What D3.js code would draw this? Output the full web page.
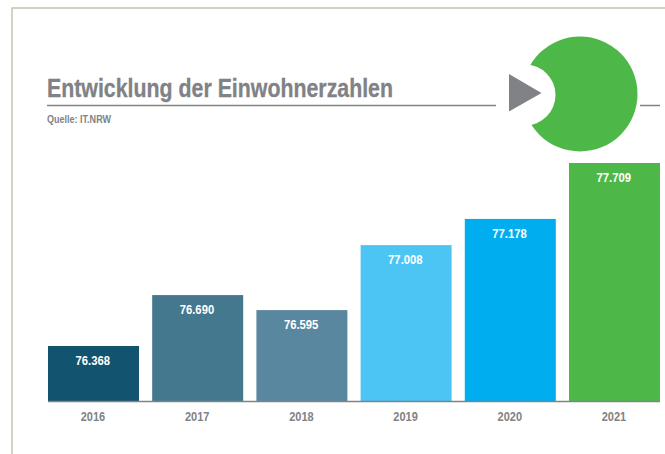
<!DOCTYPE html>
<html lang="de"><head><meta charset="utf-8">
<script src="https://cdn.jsdelivr.net/npm/d3@7"></script>
<style>html,body{margin:0;padding:0;background:#fff;overflow:hidden}svg{display:block}
text{font-family:"Liberation Sans",Arial,sans-serif;font-weight:700}</style>
</head><body><svg id="c" width="665" height="454"></svg>
<script>
const years = ["2016","2017","2018","2019","2020","2021"];
const valueLabels = ["76.368","76.690","76.595","77.008","77.178","77.709"];
// The source's bars are not proportional to their printed numbers, so the drawn
// bar lengths are read from the picture separately (relative units, 2021 = 100).
const barLengths = [23.1, 44.5, 38.2, 65.5, 76.5, 100];
const barColors = ["#12536f","#43788e","#5a87a0","#4dc5f4","#00aeef","#4db848"];
const titleText = "Entwicklung der Einwohnerzahlen";
const sourceText = "Quelle: IT.NRW";

const grey = "#808285";
const svg = d3.select("#c");
const x = d3.scaleBand().domain(years).range([48, 660]).paddingInner(0.1267).paddingOuter(0);
const y = d3.scaleLinear().domain([0, 100]).range([401, 163]);

// Narrow the font to the condensed look of the original
const condense = (sel, len) => sel.attr("textLength", len).attr("lengthAdjust", "spacingAndGlyphs");

// frame
svg.append("path").attr("d", "M12,454V8H665").attr("fill", "none").attr("stroke", "#c3c5b3").attr("stroke-width", 1.5);

// title
svg.append("text").attr("x", 47).attr("y", 97).attr("font-size", 26).attr("fill", grey)
  .attr("stroke", grey).attr("stroke-width", 0.3).text(titleText).call(condense, 346);
svg.append("text").attr("x", 47).attr("y", 122.5).attr("font-size", 10.5).attr("fill", grey).text(sourceText).call(condense, 64);
svg.append("path").attr("d", "M47,105.5H496M640,105.5H660").attr("stroke", grey).attr("stroke-width", 1.3).attr("fill", "none");

// emblem
svg.append("circle").attr("cx", 580).attr("cy", 94).attr("r", 57.5).attr("fill", "#4db848");
svg.append("circle").attr("cx", 525).attr("cy", 95).attr("r", 30.5).attr("fill", "#fff");
svg.append("path").attr("d", "M509,74L541.5,93L509,111.5Z").attr("fill", grey);

// bars
svg.selectAll("rect.bar").data(years).join("rect").attr("class", "bar")
  .attr("x", d => x(d)).attr("width", x.bandwidth())
  .attr("y", (d, i) => y(barLengths[i])).attr("height", (d, i) => y(0) - y(barLengths[i]))
  .attr("fill", (d, i) => barColors[i]);

// value labels
svg.selectAll("text.val").data(years).join("text").attr("class", "val")
  .attr("x", d => x(d) + x.bandwidth() / 2 - 18).attr("y", (d, i) => y(barLengths[i]) + 19)
  .attr("font-size", 12).attr("fill", "#fff")
  .text((d, i) => valueLabels[i]).call(condense, 34.5);

// axis
const axis = svg.append("g").attr("transform", "translate(0,401)")
  .call(d3.axisBottom(x).tickSize(0).tickPadding(11));
axis.select(".domain").attr("d", "M48,0.5H660").attr("stroke", grey).attr("stroke-width", 1.5);
axis.selectAll("text").attr("font-size", 12).attr("fill", grey).attr("dx", -0.5)
  .style("font-family", '"Liberation Sans",Arial,sans-serif').style("font-weight", 700)
  .call(condense, 24.5);
</script></body></html>
